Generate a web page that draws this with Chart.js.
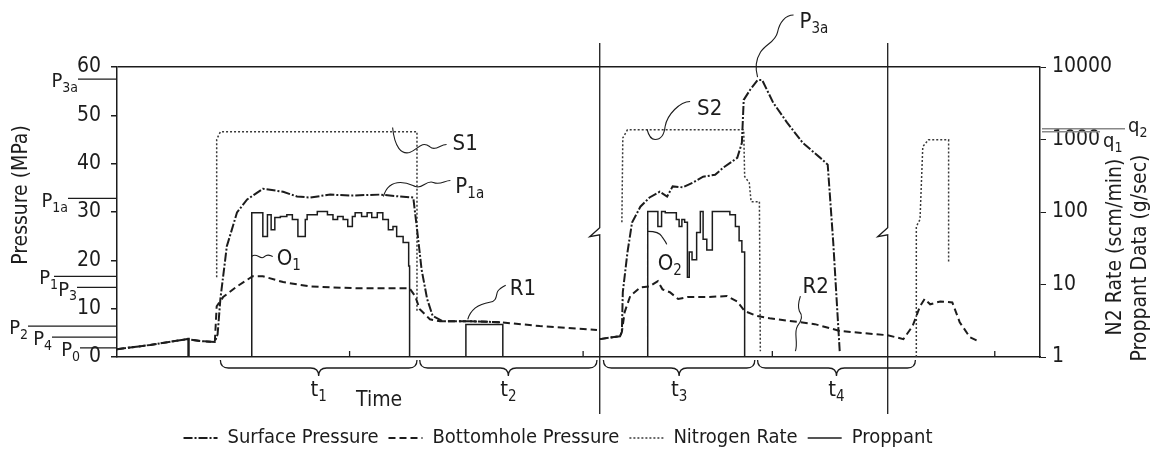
<!DOCTYPE html>
<html>
<head>
<meta charset="utf-8">
<script src="https://cdn.jsdelivr.net/npm/chart.js@4.4.1/dist/chart.umd.min.js"></script>
<style>
  html, body { margin: 0; padding: 0; background: #fff; }
  #wrap { width: 1156px; height: 452px; }
</style>
</head>
<body>
<div id="wrap"><canvas id="fracChart" width="1156" height="452"></canvas></div>
<script>
// time runs 0..100 across the plot (arbitrary units, axis is unlabelled)
const surfaceTime = [0, 3.6, 7.6, 9.0, 10.6, 10.9, 11.2, 11.9, 13.0, 14.1, 15.8, 18.0, 19.5, 20.9, 23.1, 25.2, 28.5, 30.7, 32.1, 32.6, 33.0, 33.6, 34.2, 35.3, 38.2, 41.5, 46.0, 52.3, 54.5, 54.7, 54.8, 55.3, 55.8, 56.7, 57.7, 58.8, 59.6, 60.2, 61.3, 62.4, 63.5, 64.8, 65.7, 67.2, 67.7, 67.9, 68.6, 69.4, 69.9, 71.1, 72.6, 74.3, 76.2, 77.0, 77.6, 78.3];
const surfaceMPa = [1.6, 2.5, 3.7, 3.3, 3.1, 4.7, 12.0, 22.9, 29.9, 32.6, 34.8, 34.2, 33.2, 33.0, 33.6, 33.4, 33.6, 33.2, 33.0, 24.9, 18.1, 12.0, 8.5, 7.4, 7.4, 7.2, null, 3.7, 4.3, 5.2, 13.4, 21.6, 27.8, 31.1, 33.0, 34.2, 33.2, 35.3, 35.1, 36.1, 37.3, 37.7, 39.2, 41.2, 44.3, 53.2, 55.3, 57.3, 57.3, 52.6, 48.5, 44.3, 41.2, 39.8, 23.7, 1.2];

const bottomholeTime = [0, 3.6, 7.6, 9.0, 10.6, 10.8, 11.5, 13.0, 14.7, 15.8, 18.0, 20.9, 23.1, 26.3, 31.7, 32.3, 32.8, 33.9, 35.0, 38.2, 41.5, 45.8, 52.0, 52.2, 52.3, 54.5, 54.7, 55.0, 55.6, 56.7, 57.7, 58.6, 59.1, 59.9, 60.8, 61.8, 63.9, 66.1, 67.2, 68.0, 69.3, 70.7, 75.6, 78.3, 83.5, 85.2, 86.2, 87.0, 87.5, 88.1, 89.2, 90.5, 91.3, 92.4, 93.3];
const bottomholeMPa = [1.6, 2.5, 3.7, 3.3, 3.1, 10.5, 12.4, 14.6, 16.7, 16.7, 15.5, 14.6, 14.4, 14.2, 14.2, 12.6, 9.9, 7.8, 7.4, 7.4, 7.2, 6.4, 5.6, null, 3.7, 4.3, 5.2, 9.3, 12.6, 14.4, 14.6, 15.7, 14.0, 13.4, 12.0, 12.4, 12.4, 12.6, 11.5, 9.5, 8.5, 8.0, 6.8, 5.4, 4.5, 3.7, 6.4, 10.5, 12.0, 10.9, 11.5, 11.3, 7.2, 4.1, 3.3];

const nitrogenTime = [10.8, 10.8, 11.2, 32.5, 32.5, 40, 54.7, 54.8, 55.3, 67.9, 68.0, 68.5, 68.7, 69.6, 69.7, 80, 86.6, 86.6, 87.0, 87.3, 87.9, 90.1, 90.1];
const nitrogenRate = [12.6, 1000, 1280, 1280, 4.2, null, 72, 1050, 1360, 1360, 309, 253, 139, 139, 1.2, null, 1, 63, 79, 795, 990, 990, 20];

const proppantTime = [7.7, 7.7, 7.8, 10, 14.6, 14.6, 15.8, 16.3, 16.7, 17.1, 17.7, 18.4, 19.0, 19.6, 20.4, 20.6, 21.7, 22.8, 23.4, 23.9, 24.5, 25.0, 25.5, 25.8, 26.5, 27.1, 27.6, 28.2, 28.8, 29.4, 29.9, 30.3, 31.0, 31.6, 31.7, 35, 37.8, 37.8, 41.8, 50, 57.5, 57.5, 58.6, 59.0, 59.4, 60.6, 60.9, 61.2, 61.5, 61.8, 62.0, 62.3, 62.8, 63.2, 63.5, 63.9, 64.5, 66.4, 67.0, 67.4, 67.7, 68.0];
const proppantRate = [1, 1.8, 1, null, 1, 98, 46, 92, 57, 84, 87, 92, 79, 46, 79, 92, 102, 92, 79, 87, 79, 63, 87, 98, 87, 98, 84, 98, 79, 57, 63, 46, 38, 18, 1, null, 1, 2.8, 1, null, 1, 102, 63, 102, 98, 79, 63, 79, 72, 12.6, 28, 22, 52, 102, 42, 30, 102, 92, 63, 40, 28, 1];

const pressureTicks = [0, 10, 20, 30, 40, 50, 60];
const rateTicks = [1, 10, 100, 1000, 10000];

// reference levels marked left of the pressure axis and right of the rate axis
const pressureMarks = [['P', '3a', 57.5], ['P', '1a', 32.8], ['P', '1', 16.7], ['P', '3', 14.4], ['P', '2', 6.4], ['P', '4', 4.1], ['P', '0', 1.9]];
const rateMarks = [['q', '2', 1410], ['q', '1', 1280]];

const periods = [['1', 11.2, 32.5], ['2', 32.8, 52.0], ['3', 52.7, 69.1], ['4', 69.4, 86.5]];
const breakTimes = [52.3, 83.5];
const minorTimes = [25.2, 50.5, 71.0, 95.1];

const INK = '#1c1c1c';
const FONT = "'Liberation Sans Narrow', 'Arial Narrow', 'DejaVu Sans Condensed', sans-serif";

function pts(xs, ys) {
  return xs.map((t, i) => ({ x: t, y: ys[i] }));
}

// text with a subscript, e.g. P + 1a
function subText(ctx, x, y, main, sub, size, align) {
  ctx.font = size + 'px ' + FONT;
  const w1 = ctx.measureText(main).width;
  const small = Math.round(size * 0.68);
  ctx.font = small + 'px ' + FONT;
  const w2 = sub ? ctx.measureText(sub).width : 0;
  let x0 = x;
  if (align === 'right') x0 = x - w1 - w2;
  if (align === 'center') x0 = x - (w1 + w2) / 2;
  ctx.textAlign = 'left';
  ctx.textBaseline = 'middle';
  ctx.font = size + 'px ' + FONT;
  ctx.fillText(main, x0, y);
  if (sub) {
    ctx.font = small + 'px ' + FONT;
    ctx.fillText(sub, x0 + w1, y + size * 0.32);
  }
}

// callout labels with their wavy leader lines (offsets in px from the anchor)
const callouts = [
  { main: 'S1', sub: '', at: [31.7, 42.3], start: [-17, -25], curves: [[-15, -5, -8, 2, 0, 0], [8, -3, 12, -12, 20, -6], [26, -1, 30, -8, 37, -8]], text: [43, -8] },
  { main: 'P', sub: '1a', at: [30.7, 35.9], start: [-17, 13], curves: [[-14, 3, -8, -1, 0, -1], [8, -1, 12, 2, 15, 3], [22, 6, 26, -4, 33, -1], [40, 2, 44, -3, 50, -3]], text: [55, 4] },
  { main: 'O', sub: '1', at: [14.6, 20.8], start: [0, 0], curves: [[5, -5, 9, 5, 13, 0], [16, -3, 18, -1, 21, 0]], text: [25, 3] },
  { main: 'R1', sub: '', at: [38.0, 7.8], start: [0, 0], curves: [[3, -10, 10, -15, 22, -17], [30, -18, 28, -25, 30, -28], [32, -31, 36, -33, 38, -34]], text: [42, -30] },
  { main: 'S2', sub: '', at: [58.3, 45.0], start: [-8, -10], curves: [[-6, -2, -3, 0, 0, 0], [5, 0, 9, -4, 10, -13], [12, -25, 25, -38, 35, -38]], text: [42, -30] },
  { main: 'O', sub: '2', at: [57.5, 26.0], start: [0, 0], curves: [[6, 0, 12, 1, 14, 5], [16, 8, 18, 10, 19, 13]], text: [10, 33] },
  { main: 'R2', sub: '', at: [73.5, 1.2], start: [0, 0], curves: [[3, -10, -2, -18, 2, -25], [6, -30, 8, -35, 4, -40], [2, -45, 4, -52, 5, -55]], text: [7, -64] },
  { main: 'P', sub: '3a', at: [69.4, 57.3], start: [0, -3], curves: [[-2, -10, -2, -20, 3, -28], [8, -36, 18, -38, 20, -48], [22, -58, 28, -65, 36, -65]], text: [42, -58] }
];

const overlay = {
  id: 'overlay',
  afterDraw(chart) {
    const { ctx, chartArea: a, scales: { x, y, y2 } } = chart;
    ctx.save();
    ctx.strokeStyle = INK;
    ctx.fillStyle = INK;
    ctx.lineWidth = 1.3;

    // axis breaks
    breakTimes.forEach(t => {
      const bx = x.getPixelForValue(t);
      const by = y.getPixelForValue(25.5);
      ctx.beginPath();
      ctx.moveTo(bx, a.top - 24);
      ctx.lineTo(bx, by - 6);
      ctx.lineTo(bx - 10, by + 3);
      ctx.lineTo(bx, by + 1);
      ctx.lineTo(bx, a.bottom + 57);
      ctx.stroke();
    });

    // small ticks on the time axis
    minorTimes.forEach(t => {
      const mx = x.getPixelForValue(t);
      ctx.beginPath();
      ctx.moveTo(mx, a.bottom);
      ctx.lineTo(mx, a.bottom - 6);
      ctx.stroke();
    });

    // braces under the time axis with t labels
    periods.forEach(([n, t1, t2]) => {
      const x1 = x.getPixelForValue(t1), x2 = x.getPixelForValue(t2);
      const m = (x1 + x2) / 2, y0 = a.bottom + 3, q = 8;
      ctx.beginPath();
      ctx.moveTo(x1, y0);
      ctx.quadraticCurveTo(x1, y0 + q, x1 + q, y0 + q);
      ctx.lineTo(m - q, y0 + q);
      ctx.quadraticCurveTo(m, y0 + q, m, y0 + 2 * q);
      ctx.quadraticCurveTo(m, y0 + q, m + q, y0 + q);
      ctx.lineTo(x2 - q, y0 + q);
      ctx.quadraticCurveTo(x2, y0 + q, x2, y0);
      ctx.stroke();
      subText(ctx, m, a.bottom + 33, 't', n, 22, 'center');
    });
    ctx.font = '21px ' + FONT;
    ctx.textAlign = 'center';
    ctx.textBaseline = 'middle';
    ctx.fillText('Time', x.getPixelForValue(28.4), a.bottom + 44);

    // pressure level marks left of the axis
    const markStart = { '3a': 78, '1a': 68, '1': 54, '3': 77, '2': 28, '4': 52, '0': 80 };
    ctx.lineWidth = 1.2;
    pressureMarks.forEach(([p, s, v]) => {
      const my = y.getPixelForValue(v);
      const sx = markStart[s];
      ctx.beginPath();
      ctx.moveTo(sx, my);
      ctx.lineTo(a.left, my);
      ctx.stroke();
      subText(ctx, sx + (s === '1' ? 4 : 0), my + 3, p, s, 20, 'right');
    });

    // nitrogen level marks right of the rate axis
    ctx.strokeStyle = '#888';
    ctx.lineWidth = 1.5;
    rateMarks.forEach(([p, s, v], i) => {
      const my = y2.getPixelForValue(v);
      const len = i === 0 ? 85 : 60;
      ctx.beginPath();
      ctx.moveTo(a.right + 2, my);
      ctx.lineTo(a.right + len, my);
      ctx.stroke();
      if (i === 0) subText(ctx, a.right + len + 3, my - 2, p, s, 20, 'left');
      else subText(ctx, a.right + len + 3, my + 10, p, s, 20, 'left');
    });

    // callouts
    ctx.strokeStyle = INK;
    ctx.lineWidth = 1.1;
    callouts.forEach(c => {
      const ax = x.getPixelForValue(c.at[0]);
      const ay = y.getPixelForValue(c.at[1]);
      ctx.beginPath();
      ctx.moveTo(ax + c.start[0], ay + c.start[1]);
      c.curves.forEach(k => ctx.bezierCurveTo(ax + k[0], ay + k[1], ax + k[2], ay + k[3], ax + k[4], ay + k[5]));
      ctx.stroke();
      subText(ctx, ax + c.text[0], ay + c.text[1], c.main, c.sub, 22, 'left');
    });

    // axis titles
    ctx.fillStyle = INK;
    ctx.font = '21px ' + FONT;
    ctx.textAlign = 'center';
    ctx.textBaseline = 'middle';
    [['Pressure (MPa)', 22, 195], ['N2 Rate (scm/min)', a.right + 76, 247], ['Proppant Data (g/sec)', a.right + 101, 258]].forEach(([txt, tx, ty]) => {
      ctx.save();
      ctx.translate(tx, ty);
      ctx.rotate(-Math.PI / 2);
      ctx.fillText(txt, 0, 0);
      ctx.restore();
    });
    ctx.restore();
  }
};

new Chart(document.getElementById('fracChart'), {
  type: 'line',
  data: {
    datasets: [
      { label: 'Surface Pressure', data: pts(surfaceTime, surfaceMPa), yAxisID: 'y', borderColor: INK, borderWidth: 2, borderDash: [9, 2, 2, 2] },
      { label: 'Bottomhole Pressure', data: pts(bottomholeTime, bottomholeMPa), yAxisID: 'y', borderColor: INK, borderWidth: 2, borderDash: [7, 4] },
      { label: 'Nitrogen Rate', data: pts(nitrogenTime, nitrogenRate), yAxisID: 'y2', borderColor: '#3a3a3a', borderWidth: 1.5, borderDash: [2, 2] },
      { label: 'Proppant', data: pts(proppantTime, proppantRate), yAxisID: 'y2', borderColor: INK, borderWidth: 1.5, stepped: 'before' }
    ]
  },
  options: {
    responsive: false,
    animation: false,
    devicePixelRatio: 1,
    spanGaps: false,
    elements: { point: { radius: 0 }, line: { tension: 0, fill: false } },
    layout: { padding: { top: 67, left: 0, right: 40, bottom: -6 } },
    plugins: {
      tooltip: { enabled: false },
      legend: {
        position: 'bottom',
        labels: {
          usePointStyle: true,
          pointStyle: 'line',
          pointStyleWidth: 34,
          color: INK,
          padding: 10,
          font: { family: FONT, size: 20 },
          generateLabels: chart => {
            const items = Chart.defaults.plugins.legend.labels.generateLabels(chart);
            items.forEach(it => {
              const ds = chart.data.datasets[it.datasetIndex];
              it.lineDash = ds.borderDash || [];
              it.lineWidth = ds.borderWidth;
              it.strokeStyle = ds.borderColor;
              it.pointStyle = 'line';
            });
            return items;
          }
        }
      }
    },
    scales: {
      x: {
        type: 'linear',
        min: 0,
        max: 100,
        ticks: { display: false },
        grid: { display: false, drawTicks: false },
        border: { display: true, color: INK, width: 1.5 },
        afterFit: s => { s.height = 61; }
      },
      y: {
        position: 'left',
        min: 0,
        max: 60,
        afterBuildTicks: s => { s.ticks = pressureTicks.map(v => ({ value: v })); },
        ticks: { color: INK, font: { family: FONT, size: 21 }, padding: 10 },
        grid: {
          color: c => (c.tick && c.tick.value === 60 ? INK : 'rgba(0,0,0,0)'),
          lineWidth: 1.5,
          tickColor: INK,
          tickLength: 6
        },
        border: { color: INK, width: 1.5 },
        afterFit: s => { s.width = 117; }
      },
      y2: {
        type: 'logarithmic',
        position: 'right',
        min: 1,
        max: 10000,
        afterBuildTicks: s => { s.ticks = rateTicks.map(v => ({ value: v })); },
        ticks: { color: INK, font: { family: FONT, size: 21 }, padding: 6, autoSkip: false, callback: v => String(v) },
        grid: { drawOnChartArea: false, tickColor: INK, tickLength: 6 },
        border: { color: INK, width: 1.5 },
        afterFit: s => { s.width = 76; }
      }
    }
  },
  plugins: [overlay]
});
</script>
</body>
</html>
